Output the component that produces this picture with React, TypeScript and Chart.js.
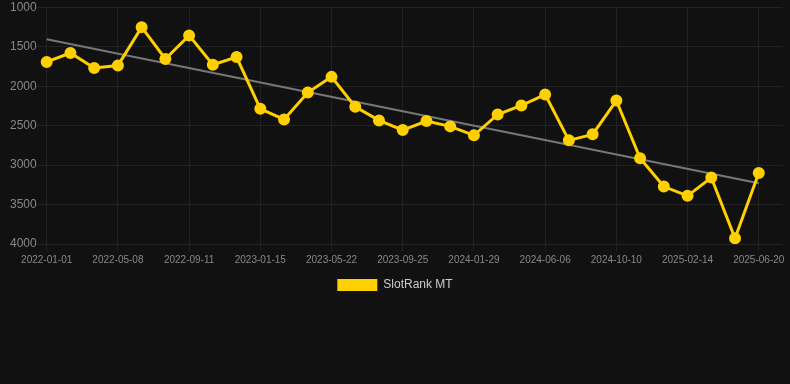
import React, { useEffect, useRef } from "react";
import { Chart, registerables } from "chart.js";

Chart.register(...registerables);

// last entry is an empty trailing slot on the category axis (no data point)
const labels: string[] = [
  "2022-01-01", "2022-02-12", "2022-03-27", "2022-05-08", "2022-06-19", "2022-07-31",
  "2022-09-11", "2022-10-23", "2022-12-04", "2023-01-15", "2023-02-26", "2023-04-09",
  "2023-05-22", "2023-07-03", "2023-08-14", "2023-09-25", "2023-11-06", "2023-12-18",
  "2024-01-29", "2024-03-12", "2024-04-24", "2024-06-06", "2024-07-18", "2024-08-29",
  "2024-10-10", "2024-11-21", "2025-01-02", "2025-02-14", "2025-03-28", "2025-05-09",
  "2025-06-20", "",
];

const rankValues: number[] = [
  1690, 1577, 1767, 1737, 1249, 1653, 1354, 1725, 1628, 2285, 2420, 2079,
  1880, 2260, 2432, 2555, 2441, 2508, 2622, 2357, 2243, 2104, 2685, 2609,
  2180, 2913, 3271, 3389, 3157, 3928, 3098,
];

const trendEnds: number[] = [1404, 3229];

const yTicks: number[] = [1000, 1500, 2000, 2500, 3000, 3500, 4000];

const legendNudge = {
  id: "legendNudge",
  afterLayout(chart: any) {
    if (chart.legend) {
      chart.legend.left -= 5;
      chart.legend.right -= 5;
    }
  },
};

export default function App() {
  const ref = useRef<HTMLCanvasElement | null>(null);

  useEffect(() => {
    document.body.style.margin = "0";
    document.body.style.background = "#111111";
    if (!ref.current) return;
    const last = rankValues.length - 1;
    const trendData = rankValues.map((_, i) =>
      i === 0 ? trendEnds[0] : i === last ? trendEnds[1] : null
    );
    const chart = new Chart(ref.current, {
      type: "line",
      data: {
        labels,
        datasets: [
          {
            label: "SlotRank MT",
            data: rankValues,
            borderColor: "#FFD000",
            backgroundColor: "#FFD000",
            borderWidth: 3,
            pointRadius: 4.5,
            pointHoverRadius: 4.5,
            pointBackgroundColor: "#FFD000",
            pointBorderColor: "#FFD000",
            tension: 0,
            order: 1,
          },
          {
            label: "trend",
            data: trendData,
            borderColor: "#777777",
            backgroundColor: "#777777",
            borderWidth: 2,
            pointRadius: 0,
            spanGaps: true,
            order: 2,
          },
        ],
      },
      plugins: [legendNudge],
      options: {
        animation: false,
        responsive: false,
        maintainAspectRatio: false,
        layout: { padding: { top: 0, right: 0, left: 10, bottom: 0 } },
        scales: {
          x: {
            offset: false,
            grid: {
              color: (ctx: any) =>
                ctx.index % 3 === 0 && ctx.index < labels.length - 1
                  ? "#222222"
                  : "rgba(0,0,0,0)",
              drawTicks: true,
              tickLength: 7,
            },
            border: { display: false },
            ticks: {
              color: "#888888",
              font: { size: 10 },
              autoSkip: false,
              maxRotation: 0,
              callback: (_v: any, i: number) => (i % 3 === 0 ? labels[i] : ""),
            },
          },
          y: {
            reverse: true,
            min: 1000,
            max: 4000,
            afterBuildTicks: (axis: any) => {
              axis.ticks = yTicks.map((v) => ({ value: v }));
            },
            grid: { color: "#222222", drawTicks: true, tickLength: 10 },
            border: { display: false },
            ticks: {
              color: "#888888",
              font: { size: 12 },
              padding: 0,
              callback: (v: any) => String(v),
            },
          },
        },
        plugins: {
          legend: {
            position: "bottom",
            labels: {
              color: "#cccccc",
              font: { size: 12 },
              boxWidth: 40,
              boxHeight: 12,
              generateLabels: (c: any) =>
                Chart.defaults.plugins.legend.labels
                  .generateLabels(c)
                  .filter((it: any) => it.text === "SlotRank MT")
                  .map((it: any) => ({ ...it, lineWidth: 0 })),
            },
          },
          tooltip: { enabled: false },
        },
      },
    });
    return () => chart.destroy();
  }, []);

  return (
    <div style={{ width: 790, height: 384, background: "#111111", overflow: "hidden" }}>
      <canvas ref={ref} width={790} height={301} style={{ display: "block" }} />
    </div>
  );
}
